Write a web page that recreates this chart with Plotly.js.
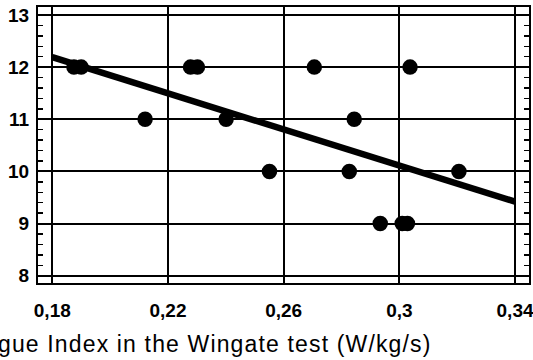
<!DOCTYPE html>
<html>
<head>
<meta charset="utf-8">
<script src="https://cdn.plot.ly/plotly-3.0.1.min.js"></script>
<style>html,body{margin:0;padding:0;background:#fff;}#chart{width:533px;height:360px;}
.annotation-text{letter-spacing:1.15px;}</style>
</head>
<body>
<div id="chart"></div>
<script>
// Scatter data: Fatigue Index (W/kg/s) vs score
const fatigueIndex = [0.1875, 0.1900, 0.2121, 0.2278, 0.2302, 0.2401, 0.2551, 0.2706, 0.2827, 0.2844, 0.2934, 0.3010, 0.3028, 0.3037, 0.3206];
const scores       = [12,     12,     11,     12,     12,     11,     10,     12,     10,     11,     9,      9,      9,      12,     10];
// Regression line endpoints
const lineX = [0.18, 0.34];
const lineY = [12.19, 9.42];
// Tick labels
const xTickVals = [0.18, 0.22, 0.26, 0.30, 0.34];
const xTickText = ['0,18', '0,22', '0,26', '0,3', '0,34'];
const yTickVals = [8, 9, 10, 11, 12, 13];
const xTitle = 'Fatigue Index in the Wingate test (W/kg/s)';

const traces = [
  {x: lineX, y: lineY, mode: 'lines', type: 'scatter',
   line: {color: '#000', width: 6.5}, hoverinfo: 'skip'},
  {x: fatigueIndex, y: scores, mode: 'markers', type: 'scatter',
   marker: {color: '#000', size: 15.5}}
];

const tickFont = {family: 'Liberation Sans, Arial, sans-serif', size: 19, color: '#000', weight: 'bold'};

const layout = {
  width: 533, height: 360,
  margin: {l: 38, r: 4, t: 7, b: 77},
  paper_bgcolor: '#fff', plot_bgcolor: '#fff',
  showlegend: false,
  xaxis: {
    range: [0.175066, 0.344831],
    tickvals: xTickVals, ticktext: xTickText,
    showgrid: true, gridcolor: '#000', gridwidth: 2,
    zeroline: false,
    showline: true, linecolor: '#000', linewidth: 2, mirror: true,
    ticks: '', tickfont: tickFont, ticklabelstandoff: 9,
    ticklabeloverflow: 'allow'
  },
  yaxis: {
    range: [7.860, 13.153],
    tickvals: yTickVals,
    showgrid: true, gridcolor: '#000', gridwidth: 2,
    zeroline: false,
    showline: true, linecolor: '#000', linewidth: 2, mirror: 'ticks',
    ticks: 'inside', ticklen: 5, tickwidth: 1.5, tickcolor: '#000',
    minor: {dtick: 0.2, ticks: 'inside', ticklen: 5, tickwidth: 1.5, tickcolor: '#000', showgrid: false},
    tickfont: tickFont, ticklabelstandoff: 3
  },
  annotations: [{
    text: xTitle, xref: 'paper', yref: 'paper',
    x: 0.8065, y: -0.221, xanchor: 'right', yanchor: 'middle',
    showarrow: false,
    font: {family: 'Liberation Sans, Arial, sans-serif', size: 23, color: '#000'}
  }]
};

Plotly.newPlot('chart', traces, layout, {staticPlot: true, displayModeBar: false});
</script>
</body>
</html>
